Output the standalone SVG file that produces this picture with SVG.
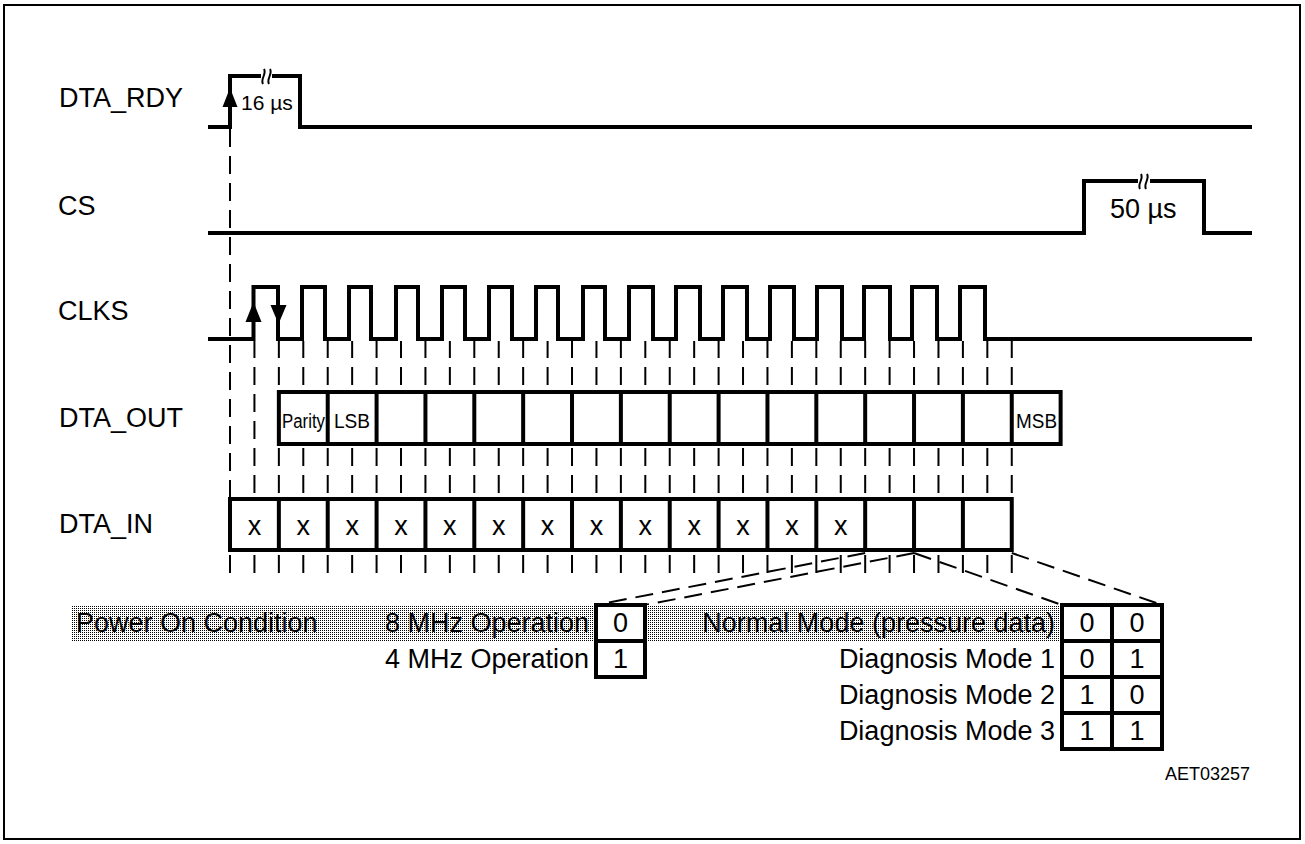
<svg xmlns="http://www.w3.org/2000/svg" width="1305" height="844" viewBox="0 0 1305 844">
<style>
text { font-family: "Liberation Sans", Arial, sans-serif; fill: #000; }
.lbl { font-size: 27px; }
.wave { fill: none; stroke: #000; stroke-width: 4; stroke-linejoin: miter; stroke-linecap: butt; }
.box { fill: #fff; stroke: #000; stroke-width: 4; }
.div { stroke: #000; stroke-width: 4; fill: none; }
.tick { fill: none; stroke: #000; stroke-width: 2; }
.dash { fill: none; stroke: #000; stroke-width: 2; stroke-dasharray: 18 9; }
.brk { fill: none; stroke: #000; stroke-width: 2; }
.val { font-size: 27px; text-anchor: middle; }
.end { font-size: 27px; text-anchor: end; }
.cell { font-size: 20px; }
</style>
<defs>
<pattern id="dots" width="2" height="2" patternUnits="userSpaceOnUse">
<rect width="2" height="2" fill="#fff"/>
<rect x="0" y="0" width="1" height="1" fill="#000"/>
</pattern>
</defs>
<rect x="0" y="0" width="1305" height="844" fill="#fff"/>
<rect id="frame" x="4" y="5" width="1296" height="834" fill="none" stroke="#000" stroke-width="2"/>

<g id="connectors">
<path class="dash" d="M230 129V497"/>
<path class="tick" d="M254.43 394v18M254.43 421v18"/>
<path class="tick" d="M254.43 341v17m24.43 -17v17m24.43 -17v17m24.43 -17v17m24.43 -17v17m24.43 -17v17m24.43 -17v17m24.43 -17v17m24.43 -17v17m24.43 -17v17m24.43 -17v17m24.43 -17v17m24.43 -17v17m24.43 -17v17m24.43 -17v17m24.43 -17v17m24.43 -17v17m24.43 -17v17m24.43 -17v17m24.43 -17v17m24.43 -17v17m24.43 -17v17m24.43 -17v17m24.43 -17v17m24.43 -17v17m24.43 -17v17m24.43 -17v17m24.43 -17v17m24.43 -17v17m24.43 -17v17m24.43 -17v17m24.43 -17v17"/>
<path class="tick" d="M254.43 367v18m24.43 -18v18m24.43 -18v18m24.43 -18v18m24.43 -18v18m24.43 -18v18m24.43 -18v18m24.43 -18v18m24.43 -18v18m24.43 -18v18m24.43 -18v18m24.43 -18v18m24.43 -18v18m24.43 -18v18m24.43 -18v18m24.43 -18v18m24.43 -18v18m24.43 -18v18m24.43 -18v18m24.43 -18v18m24.43 -18v18m24.43 -18v18m24.43 -18v18m24.43 -18v18m24.43 -18v18m24.43 -18v18m24.43 -18v18m24.43 -18v18m24.43 -18v18m24.43 -18v18m24.43 -18v18m24.43 -18v18"/>
<path class="tick" d="M254.43 448v18m24.43 -18v18m24.43 -18v18m24.43 -18v18m24.43 -18v18m24.43 -18v18m24.43 -18v18m24.43 -18v18m24.43 -18v18m24.43 -18v18m24.43 -18v18m24.43 -18v18m24.43 -18v18m24.43 -18v18m24.43 -18v18m24.43 -18v18m24.43 -18v18m24.43 -18v18m24.43 -18v18m24.43 -18v18m24.43 -18v18m24.43 -18v18m24.43 -18v18m24.43 -18v18m24.43 -18v18m24.43 -18v18m24.43 -18v18m24.43 -18v18m24.43 -18v18m24.43 -18v18m24.43 -18v18m24.43 -18v18"/>
<path class="tick" d="M254.43 475v18m24.43 -18v18m24.43 -18v18m24.43 -18v18m24.43 -18v18m24.43 -18v18m24.43 -18v18m24.43 -18v18m24.43 -18v18m24.43 -18v18m24.43 -18v18m24.43 -18v18m24.43 -18v18m24.43 -18v18m24.43 -18v18m24.43 -18v18m24.43 -18v18m24.43 -18v18m24.43 -18v18m24.43 -18v18m24.43 -18v18m24.43 -18v18m24.43 -18v18m24.43 -18v18m24.43 -18v18m24.43 -18v18m24.43 -18v18m24.43 -18v18m24.43 -18v18m24.43 -18v18m24.43 -18v18m24.43 -18v18"/>
<path class="tick" d="M230 555v18m24.43 -18v18m24.43 -18v18m24.43 -18v18m24.43 -18v18m24.43 -18v18m24.43 -18v18m24.43 -18v18m24.43 -18v18m24.43 -18v18m24.43 -18v18m24.43 -18v18m24.43 -18v18m24.43 -18v18m24.43 -18v18m24.43 -18v18m24.43 -18v18m24.43 -18v18m24.43 -18v18m24.43 -18v18m24.43 -18v18m24.43 -18v18m24.43 -18v18m24.43 -18v18m24.43 -18v18m24.43 -18v18m24.43 -18v18m24.43 -18v18m24.43 -18v18m24.43 -18v18m24.43 -18v18m24.43 -18v18m24.43 -18v18"/>
<path class="dash" d="M865.18 553L596 605M914.04 553L645 605M914.04 553L1062 605M1011.76 553L1162 605"/>
</g>

<g id="dta_rdy">
<text class="lbl" x="59" y="107">DTA_RDY</text>
<path class="wave" d="M208 127H230V76H300V127H1252"/>
<rect x="261" y="72" width="11" height="8" fill="#fff"/>
<path class="brk" d="M263 84C260 79 267 74 264 69M269 84C266 79 273 74 270 69"/>
<polygon points="230,88 222.5,107 237.5,107" fill="#000"/>
<text x="241" y="110" font-size="21">16 µs</text>
</g>

<g id="cs">
<text class="lbl" x="58" y="215">CS</text>
<path class="wave" d="M208 233H1084V181H1204V233H1252"/>
<rect x="1138" y="177" width="12" height="8" fill="#fff"/>
<path class="brk" d="M1140 189C1137 184 1144 179 1141 174M1146 189C1143 184 1150 179 1147 174"/>
<text class="lbl" x="1110" y="218">50 µs</text>
</g>

<g id="clks">
<text class="lbl" x="58" y="320">CLKS</text>
<path class="wave" d="M208 339H253.5V287H278V339H302V287H325V339H349V287H371V339H396V287H418V339H442V287H465V339H489V287H512V339H536V287H558V339H583V287H605V339H629V287H653V339H676V287H700V339H723V287H747V339H770V287H794V339H817V287H842V339H864V287H890V339H912V287H937V339H960V287H985V339H1252"/>
<polygon points="253.5,302 245.5,322 261.5,322" fill="#000"/>
<polygon points="270.5,305 286.5,305 278.5,324" fill="#000"/>
</g>

<g id="dta_out">
<text class="lbl" x="59" y="427">DTA_OUT</text>
<rect class="box" x="278.86" y="392" width="781.76" height="52"/>
<path class="div" d="M327.72 392V444M376.58 392V444M425.44 392V444M474.3 392V444M523.16 392V444M572.02 392V444M620.88 392V444M669.74 392V444M718.6 392V444M767.46 392V444M816.32 392V444M865.18 392V444M914.04 392V444M962.9 392V444M1011.76 392V444"/>
<text class="cell" x="282" y="428" textLength="43" lengthAdjust="spacingAndGlyphs">Parity</text>
<text class="cell" x="334" y="428" textLength="36" lengthAdjust="spacingAndGlyphs">LSB</text>
<text class="cell" x="1016" y="428" textLength="41" lengthAdjust="spacingAndGlyphs">MSB</text>
</g>

<g id="dta_in">
<text class="lbl" x="59" y="533">DTA_IN</text>
<rect class="box" x="230" y="499" width="781.76" height="51"/>
<path class="div" d="M278.86 499V550M327.72 499V550M376.58 499V550M425.44 499V550M474.3 499V550M523.16 499V550M572.02 499V550M620.88 499V550M669.74 499V550M718.6 499V550M767.46 499V550M816.32 499V550M865.18 499V550M914.04 499V550M962.9 499V550"/>
<text class="val" x="254.43" y="535">x</text>
<text class="val" x="303.29" y="535">x</text>
<text class="val" x="352.15" y="535">x</text>
<text class="val" x="401.01" y="535">x</text>
<text class="val" x="449.87" y="535">x</text>
<text class="val" x="498.73" y="535">x</text>
<text class="val" x="547.59" y="535">x</text>
<text class="val" x="596.45" y="535">x</text>
<text class="val" x="645.31" y="535">x</text>
<text class="val" x="694.17" y="535">x</text>
<text class="val" x="743.03" y="535">x</text>
<text class="val" x="791.89" y="535">x</text>
<text class="val" x="840.75" y="535">x</text>
</g>

<rect id="power_on_band" x="72" y="605" width="990" height="36" fill="url(#dots)"/>

<g id="clock_table">
<text class="lbl" x="76" y="632">Power On Condition</text>
<text class="end" x="589" y="632">8 MHz Operation</text>
<text class="end" x="589" y="668">4 MHz Operation</text>
<rect class="box" x="596" y="605" width="49" height="72"/>
<path class="div" d="M596 641H645"/>
<text class="val" x="620.5" y="632">0</text>
<text class="val" x="620.5" y="668">1</text>
</g>

<g id="mode_table">
<text class="end" x="1055" y="632">Normal Mode (pressure data)</text>
<text class="end" x="1055" y="668">Diagnosis Mode 1</text>
<text class="end" x="1055" y="704">Diagnosis Mode 2</text>
<text class="end" x="1055" y="740">Diagnosis Mode 3</text>
<rect class="box" x="1062" y="605" width="100" height="144"/>
<path class="div" d="M1112 605V749M1062 641H1162M1062 677H1162M1062 713H1162"/>
<text class="val" x="1087" y="632">0</text>
<text class="val" x="1137" y="632">0</text>
<text class="val" x="1087" y="668">0</text>
<text class="val" x="1137" y="668">1</text>
<text class="val" x="1087" y="704">1</text>
<text class="val" x="1137" y="704">0</text>
<text class="val" x="1087" y="740">1</text>
<text class="val" x="1137" y="740">1</text>
</g>

<text id="docid" x="1250" y="780" font-size="18" text-anchor="end">AET03257</text>
</svg>
